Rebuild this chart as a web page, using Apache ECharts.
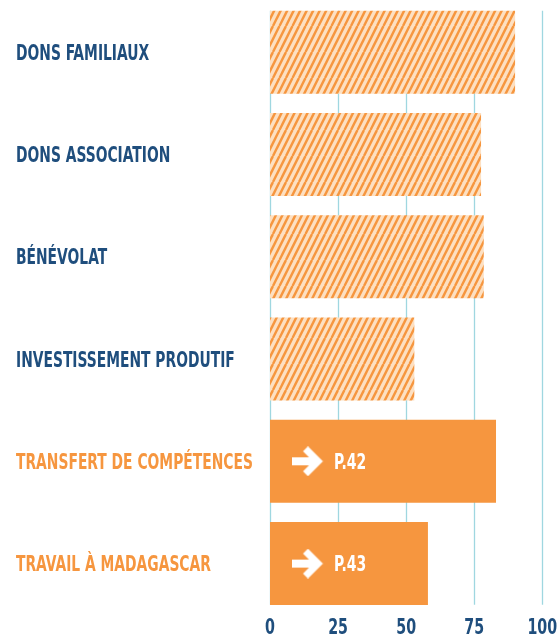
<!DOCTYPE html>
<html>
<head>
<meta charset="utf-8">
<script src="https://cdn.jsdelivr.net/npm/echarts@6/dist/echarts.min.js"></script>
<style>
  html, body { margin: 0; padding: 0; background: #ffffff; }
  #chart { width: 558px; height: 639px; }
</style>
</head>
<body>
<div id="chart"></div>
<script>
// Categories, top to bottom
const categories = [
  'DONS FAMILIAUX',
  'DONS ASSOCIATION',
  'BÉNÉVOLAT',
  'INVESTISSEMENT PRODUTIF',
  'TRANSFERT DE COMPÉTENCES',
  'TRAVAIL À MADAGASCAR'
];
// Bar values (0–100 scale)
const values = [90, 77.5, 78.5, 53, 83, 58];
// Which bars are drawn solid (the others are hatched)
const solid = [false, false, false, false, true, true];
// Page references written inside the solid bars
const pageRefs = ['', '', '', '', 'P.42', 'P.43'];
// Value axis ticks
const xTicks = [0, 25, 50, 75, 100];

const BLUE = '#1f4e7d';
const ORANGE = '#f6963f';
const PEACH = '#fde0c2';
const GRID_LINE = '#9fd7e0';
const FONT = '"DejaVu Sans Condensed", "DejaVu Sans", sans-serif';
// horizontal squeeze giving the narrow display lettering
const SQUEEZE = 0.70;

// Diagonal hatch tile: two stripes per 13px, slope 2
function hatchPattern() {
  const w = 13, h = 26;
  const c = document.createElement('canvas');
  c.width = w; c.height = h;
  const ctx = c.getContext('2d');
  ctx.fillStyle = PEACH;
  ctx.fillRect(0, 0, w, h);
  ctx.strokeStyle = ORANGE;
  ctx.lineWidth = 2.4;
  for (let x0 = -w; x0 <= w; x0 += w / 2) {
    ctx.beginPath();
    ctx.moveTo(x0, h);
    ctx.lineTo(x0 + w, 0);
    ctx.stroke();
  }
  return c;
}

// White arrow icon used before the page references
function arrowIcon() {
  const w = 32, h = 30;
  const c = document.createElement('canvas');
  c.width = w; c.height = h;
  const ctx = c.getContext('2d');
  ctx.fillStyle = '#ffffff';
  ctx.strokeStyle = '#ffffff';
  ctx.fillRect(0, 11, 25, 8);
  ctx.lineWidth = 7;
  ctx.lineJoin = 'miter';
  ctx.lineCap = 'butt';
  ctx.beginPath();
  ctx.moveTo(14, 2.5);
  ctx.lineTo(26.5, 15);
  ctx.lineTo(14, 27.5);
  ctx.stroke();
  return c;
}

const hatch = { image: hatchPattern(), repeat: 'repeat' };
const arrow = arrowIcon();

const barData = values.map((v, i) => ({
  value: v,
  itemStyle: { color: solid[i] ? ORANGE : hatch }
}));

const chart = echarts.init(document.getElementById('chart'), null, { renderer: 'canvas' });

chart.setOption({
  animation: false,
  backgroundColor: '#ffffff',
  grid: [
    // grid holding the vertical guide lines and tick labels
    { left: 270, right: 15.7, top: 10.7, bottom: 34.3, outerBoundsMode: 'none', containLabel: false },
    // grid holding the bars
    { left: 270, right: 15.7, top: 1.1, bottom: 24.3, outerBoundsMode: 'none', containLabel: false }
  ],
  xAxis: [
    {
      gridIndex: 0,
      type: 'value',
      min: xTicks[0],
      max: xTicks[xTicks.length - 1],
      interval: 25,
      axisLine: { show: false },
      axisTick: { show: false },
      splitLine: { show: true, lineStyle: { color: GRID_LINE, width: 1.3 } },
      axisLabel: { show: false }
    },
    {
      gridIndex: 1,
      type: 'value',
      min: xTicks[0],
      max: xTicks[xTicks.length - 1],
      show: false
    }
  ],
  yAxis: [
    {
      gridIndex: 0,
      type: 'category',
      data: categories,
      show: false
    },
    {
      gridIndex: 1,
      type: 'category',
      data: categories,
      inverse: true,
      axisLine: { show: false },
      axisTick: { show: false },
      splitLine: { show: false },
      axisLabel: { show: false }
    }
  ],
  series: [
    {
      type: 'bar',
      xAxisIndex: 1,
      yAxisIndex: 1,
      data: barData,
      barWidth: 83,
      z: 3
    },
    {
      // category names, left-aligned at the page margin
      type: 'custom',
      xAxisIndex: 1,
      yAxisIndex: 1,
      z: 4,
      silent: true,
      data: categories.map((c, i) => [0, i]),
      renderItem: (params, api) => {
        const i = params.dataIndex;
        const p = api.coord([0, i]);
        return {
          type: 'text',
          x: p[0] - 254,
          y: p[1] + 2,
          scaleX: SQUEEZE,
          style: {
            text: categories[i],
            x: 0, y: 0,
            fill: solid[i] ? ORANGE : BLUE,
            fontFamily: FONT,
            fontWeight: 'bold',
            fontSize: 22,
            align: 'left',
            verticalAlign: 'middle'
          }
        };
      }
    },
    {
      // value axis tick labels
      type: 'custom',
      xAxisIndex: 0,
      yAxisIndex: 0,
      z: 4,
      silent: true,
      data: xTicks.map(v => [v, 0]),
      renderItem: (params, api) => {
        const v = xTicks[params.dataIndex];
        const p = api.coord([v, 0]);
        const cs = params.coordSys;
        return {
          type: 'text',
          x: p[0],
          y: cs.y + cs.height + 24,
          scaleX: 0.72,
          style: {
            text: String(v),
            x: 0, y: 0,
            fill: BLUE,
            fontFamily: FONT,
            fontWeight: 'bold',
            fontSize: 22,
            align: 'center',
            verticalAlign: 'middle'
          }
        };
      }
    },
    {
      // arrow + page reference inside the solid bars
      type: 'custom',
      xAxisIndex: 1,
      yAxisIndex: 1,
      z: 5,
      silent: true,
      data: pageRefs.map((r, i) => [0, i]),
      renderItem: (params, api) => {
        const i = params.dataIndex;
        if (!pageRefs[i]) return null;
        const p = api.coord([0, i]);
        return {
          type: 'group',
          x: p[0],
          y: p[1],
          children: [
            {
              type: 'image',
              style: { image: arrow, x: 21.5, y: -15, width: 32, height: 30 }
            },
            {
              type: 'text',
              x: 64,
              y: 2,
              scaleX: 0.74,
              style: {
                text: pageRefs[i],
                x: 0, y: 0,
                fill: '#ffffff',
                fontFamily: FONT,
                fontWeight: 'bold',
                fontSize: 21,
                align: 'left',
                verticalAlign: 'middle'
              }
            }
          ]
        };
      }
    }
  ]
});
</script>
</body>
</html>
